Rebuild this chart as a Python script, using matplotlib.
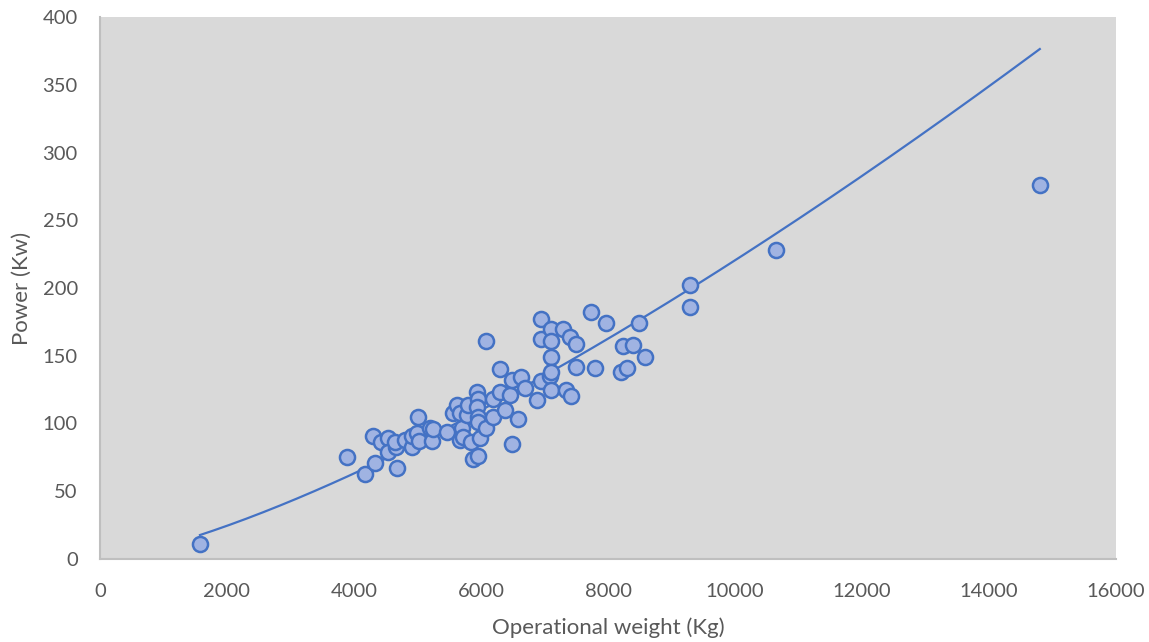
import numpy as np
import matplotlib.pyplot as plt

# operational weight (kg) and engine power (kW)
weight = [1575, 3890, 4170, 4330, 4300, 4425, 4535, 4535, 4677, 4660,
          4650, 4800, 4910, 4910, 5000, 4990, 5020, 5200, 5230, 5245,
          5465, 5560, 5620, 5670, 5670, 5700, 5715, 5780, 5795, 5840,
          5875, 5950, 5940, 5950, 5940, 5950, 5950, 5985, 6080, 6080,
          6190, 6190, 6300, 6300, 6380, 6460, 6490, 6490, 6580, 6630,
          6690, 6880, 6945, 6945, 6945, 7090, 7100, 7100, 7100, 7100,
          7100, 7290, 7400, 7500, 7340, 7420, 7500, 7730, 7800, 7970,
          8200, 8240, 8300, 8390, 8490, 8580, 9290, 9290, 10650, 14800]
power = [11, 75, 63, 71, 91, 86, 89, 79, 67, 83,
         86, 88, 83, 91, 105, 93, 87, 97, 87, 96,
         94, 108, 114, 108, 88, 97, 90, 106, 114, 86,
         74, 76, 123, 118, 112, 105, 101, 89, 161, 97,
         118, 105, 140, 123, 110, 121, 132, 85, 103, 134,
         126, 117, 177, 162, 131, 135, 170, 161, 149, 138,
         125, 170, 164, 159, 125, 120, 142, 182, 141, 174,
         138, 157, 141, 158, 174, 149, 202, 186, 228, 276]

# power trendline y = a * x^b (Excel style)
trend_b = 1.3645
trend_a = 17.7 / 1575 ** trend_b

plt.rcParams['font.family'] = ['Lato', 'DejaVu Sans']

fig = plt.figure(figsize=(11.49, 6.42), dpi=100)
ax = fig.add_axes([100 / 1149, 83 / 642, 1016 / 1149, 542 / 642])
ax.set_facecolor('#D9D9D9')

ax.scatter(weight, power, s=118, facecolor='#A0B3E2', edgecolor='#4472C4',
           linewidth=1.8, zorder=3)

xt = np.linspace(min(weight), max(weight), 200)
ax.plot(xt, trend_a * xt ** trend_b, color='#4472C4', lw=1.6, zorder=2)

ax.set_xlim(0, 16000)
ax.set_ylim(0, 400)
ax.set_xticks(range(0, 16001, 2000))
ax.set_yticks(range(0, 401, 50))

for s in ['top', 'right']:
    ax.spines[s].set_visible(False)
for s in ['left', 'bottom']:
    ax.spines[s].set_color('#BFBFBF')
    ax.spines[s].set_linewidth(1.5)

ax.tick_params(length=0, labelsize=14.5, labelcolor='#595959')
ax.tick_params(axis='x', pad=17)
ax.tick_params(axis='y', pad=16)

ax.set_xlabel('Operational weight (Kg)', fontsize=16, color='#595959', va='center')
ax.set_ylabel('Power (Kw)', fontsize=16, color='#595959', va='center')
ax.xaxis.set_label_coords(0.5, (559 - 628) / 542)
ax.yaxis.set_label_coords((22 - 100) / 1016, 0.5)

fig.savefig('out.png', dpi=100)
